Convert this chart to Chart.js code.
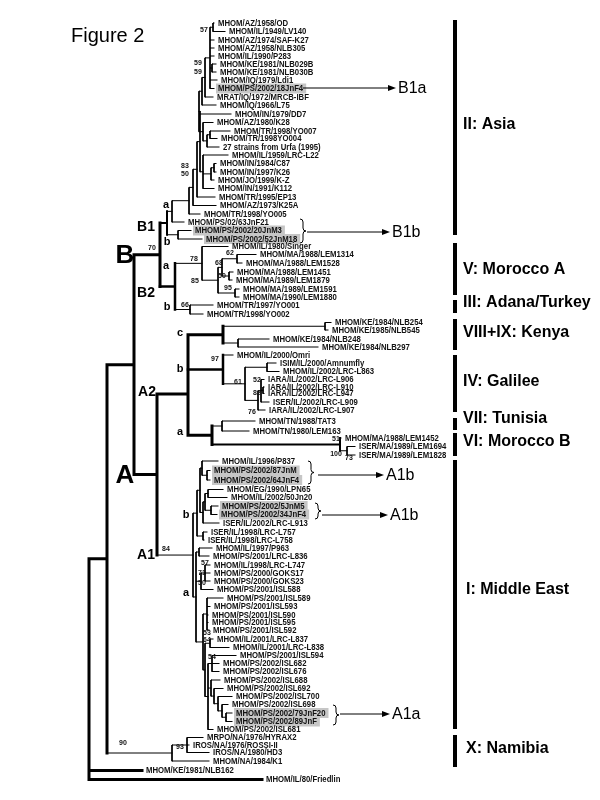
<!DOCTYPE html>
<html>
<head>
<meta charset="utf-8">
<script src="https://cdn.jsdelivr.net/npm/chart.js@4.4.1/dist/chart.umd.min.js"></script>
<style>
  html, body { margin: 0; padding: 0; background: #fff; }
  #wrap { width: 600px; height: 800px; }
</style>
</head>
<body>
<div id="wrap"><canvas id="treeChart" width="600" height="800"></canvas></div>
<script>
// strain names, one per row of the tree (top to bottom)
const leafNames = [
  "MHOM/AZ/1958/OD", "MHOM/IL/1949/LV140", "MHOM/AZ/1974/SAF-K27", "MHOM/AZ/1958/NLB305",
  "MHOM/IL/1990/P283", "MHOM/KE/1981/NLB029B", "MHOM/KE/1981/NLB030B", "MHOM/IQ/1979/Ldi1",
  "MHOM/PS/2002/18JnF4", "MRAT/IQ/1972/MRCB-IBF", "MHOM/IQ/1966/L75", "MHOM/IN/1979/DD7",
  "MHOM/AZ/1980/K28", "MHOM/TR/1998/YO007", "MHOM/TR/1998YO004", "27 strains from Urfa (1995)",
  "MHOM/IL/1959/LRC-L22", "MHOM/IN/1984/C87", "MHOM/IN/1997/K26", "MHOM/JO/1999/K-Z",
  "MHOM/IN/1991/K112", "MHOM/TR/1995/EP13", "MHOM/AZ/1973/K25A", "MHOM/TR/1998/YO005",
  "MHOM/PS/02/63JnF21", "MHOM/PS/2002/20JnM3", "MHOM/PS/2002/52JnM18", "MHOM/IL/1980/Singer",
  "MHOM/MA/1988/LEM1314", "MHOM/MA/1988/LEM1528", "MHOM/MA/1988/LEM1451", "MHOM/MA/1989/LEM1879",
  "MHOM/MA/1989/LEM1591", "MHOM/MA/1990/LEM1880", "MHOM/TR/1997/YO001", "MHOM/TR/1998/YO002",
  "MHOM/KE/1984/NLB254", "MHOM/KE/1985/NLB545", "MHOM/KE/1984/NLB248", "MHOM/KE/1984/NLB297",
  "MHOM/IL/2000/Omri", "ISIM/IL/2000/Amnumfly", "MHOM/IL/2002/LRC-L863", "IARA/IL/2002/LRC-L906",
  "IARA/IL/2002/LRC-L910", "IARA/IL/2002/LRC-L947", "ISER/IL/2002/LRC-L909", "IARA/IL/2002/LRC-L907",
  "MHOM/TN/1988/TAT3", "MHOM/TN/1980/LEM163", "MHOM/MA/1988/LEM1452", "ISER/MA/1989/LEM1694",
  "ISER/MA/1989/LEM1828", "MHOM/IL/1996/P837", "MHOM/PS/2002/87JnM", "MHOM/PS/2002/64JnF4",
  "MHOM/EG/1990/LPN65", "MHOM/IL/2002/50Jn20", "MHOM/PS/2002/5JnM5", "MHOM/PS/2002/34JnF4",
  "ISER/IL/2002/LRC-L913", "ISER/IL/1998/LRC-L757", "ISER/IL/1998/LRC-L758", "MHOM/IL/1997/P963",
  "MHOM/PS/2001/LRC-L836", "MHOM/IL/1998/LRC-L747", "MHOM/PS/2000/GOKS17", "MHOM/PS/2000/GOKS23",
  "MHOM/PS/2001/ISL588", "MHOM/PS/2001/ISL589", "MHOM/PS/2001/ISL593", "MHOM/PS/2001/ISL590",
  "MHOM/PS/2001/ISL595", "MHOM/PS/2001/ISL592", "MHOM/IL/2001/LRC-L837", "MHOM/IL/2001/LRC-L838",
  "MHOM/PS/2001/ISL594", "MHOM/PS/2002/ISL682", "MHOM/PS/2002/ISL676", "MHOM/PS/2002/ISL688",
  "MHOM/PS/2002/ISL692", "MHOM/PS/2002/ISL700", "MHOM/PS/2002/ISL698", "MHOM/PS/2002/79JnF20",
  "MHOM/PS/2002/89JnF", "MHOM/PS/2002/ISL681", "MRPO/NA/1976/HYRAX2", "IROS/NA/1976/ROSSI-II",
  "IROS/NA/1980/HD3", "MHOM/NA/1984/K1", "MHOM/KE/1981/NLB162", "MHOM/IL/80/Friedlin"
];

// row position of each strain
const leafRows = [
  23, 31.5, 40, 48, 56, 64, 72, 80, 88.5, 97, 105, 114, 122.5, 131, 138.5, 147,
  155, 163.5, 172, 180, 188.5, 197, 205.5, 214, 222, 230.5, 239, 246.5,
  254.5, 263, 272, 280, 289, 297, 305, 314, 322.5, 330, 339, 347,
  355, 363, 371.5, 379.5, 387, 393.5, 402, 410, 421, 431, 438, 446.5,
  455, 461, 470.5, 480, 489.5, 497.5, 506, 514.5, 523, 532, 540, 548,
  556, 565, 573, 581, 589.5, 598, 606.5, 615, 622.5, 630, 639, 647.5,
  655.5, 663.5, 671.5, 680, 688.5, 696.5, 704.5, 713, 721.5, 729.5, 737.5, 745,
  752.5, 761, 770.5, 779.5
];

// distance from the root to each tip (same units as the node depths below)
const leafTips = [
  214, 225, 214, 214, 214, 216, 216, 217, 214, 213, 216, 231, 213, 230, 217, 219,
  228, 216, 216, 214, 214, 215, 216, 200, 184, 191, 202, 228,
  256, 242, 233, 232, 239, 239, 213, 203, 331, 328, 269, 318,
  233, 276, 279, 264, 264, 264, 269, 265, 255, 249, 341, 355,
  355, 218, 210, 210, 223, 227, 218, 217, 219, 207, 204, 212,
  209, 210, 210, 210, 213, 223, 210, 208, 208, 209, 213, 229,
  236, 219, 219, 220, 223, 232, 228, 232, 232, 213, 203, 189,
  209, 209, 142, 262
];

const highlighted = [8, 25, 26, 54, 55, 58, 59, 83, 84];
const thickLeaves = [90, 91];

function node(x, kids, w, y) {
  return { x: x, kids: kids, w: w || 1, y: y };
}

// topology: node(depth, children, line width, fixed row)
const tree = node(89, [
  node(107, [
    node(134, [
      node(160, [
        node(167, [
          node(172, [
            node(189, [
              node(193, [
                node(197, [
                  node(200, [
                    node(199, [
                      node(202, [
                        node(205, [
                          node(210, [node(213, [0, 1]), 2, 3, 4, node(212, [5, 6]), 7, 8]),
                          9]),
                        10]),
                      11,
                      node(203, [12, node(207, [node(210, [13, 14]), 15])])
                    ]),
                    node(203, [16, node(211, [node(214, [17, 18]), 19]), 20])
                  ]),
                  21]),
                22]),
              23]),
            24]),
          node(178, [25, 26])
        ], 2),
        node(175, [
          node(202, [27, node(218, [node(222, [node(237, [28, 29]), node(229, [30, 31])]), node(235, [32, 33])])]),
          node(190, [34, 35])
        ], 2.5)
      ], 3),
      node(157, [
        node(188, [
          node(223, [node(325, [36, 37]), node(238, [38, 39])], 3),
          node(223, [40, node(245, [node(267, [41, 42]), node(258, [node(261, [43, node(263, [44, 45]), 46]), 47])])], 2.5),
          node(212, [node(222, [48, 49]), node(340, [50, node(347, [51, 52])], 2)], 3)
        ], 3, 394),
        node(193, [
          node(197, [
            node(200, [node(202, [53, node(207, [54, 55])]), node(203, [node(205, [node(208, [56, 57]), node(211, [58, 59])]), 60])]),
            node(203, [61, 62])
          ]),
          node(196, [
            node(199, [63, 64]),
            node(201, [node(205, [65, 66, 67]), 68]),
            node(203, [
              node(207, [69, 70, 71, 72, 73]),
              node(205, [
                node(210, [74, 75]),
                node(208, [
                  node(212, [76, 77, 78]),
                  node(211, [79, node(214, [80, node(218, [81, node(222, [82, node(226, [83, 84])])])])]),
                  85
                ])
              ])
            ])
          ])
        ], 1)
      ], 3)
    ], 3),
    node(172, [node(187, [86, 87, 88]), 89])
  ], 3),
  90, 91
], 3);

// bootstrap values: [text, depth, row]
const supportLabels = [
  ["57", 204, 30], ["59", 198, 63], ["59", 198, 72], ["83", 185, 166], ["50", 185, 174],
  ["70", 152, 248], ["78", 194, 259], ["62", 230, 253], ["68", 219, 263], ["50", 222, 276],
  ["85", 195, 281], ["95", 228, 288], ["66", 185, 305], ["97", 215, 359], ["61", 238, 382],
  ["52", 257, 380], ["82", 257, 393], ["76", 252, 412], ["51", 336, 439], ["100", 336, 454],
  ["73", 349, 458], ["84", 166, 549], ["57", 205, 563], ["71", 202, 573], ["50", 202, 583],
  ["53", 207, 633], ["64", 207, 640], ["54", 212, 657], ["90", 123, 743], ["93", 180, 747]
];

// clade names: [text, depth, row, font size]
const cladeLabels = [
  ["B", 125, 256, 26], ["A", 125, 476, 26],
  ["B1", 146, 227, 14], ["B2", 146, 293, 14], ["A2", 147, 392, 14], ["A1", 146, 555, 14],
  ["a", 166, 205, 11], ["b", 167, 242, 11], ["a", 166, 266, 11], ["b", 167, 307, 11],
  ["c", 180, 333, 11], ["b", 180, 369, 11], ["a", 180, 432, 11],
  ["b", 186, 515, 11], ["a", 186, 593, 11]
];

// geographic groups on the right: name, top row, bottom row, label row
const groupNames = ["II: Asia", "V: Morocco A", "III: Adana/Turkey", "VIII+IX: Kenya",
  "IV: Galilee", "VII: Tunisia", "VI: Morocco B", "I: Middle East", "X: Namibia"];
const groupTop = [20, 243, 300, 319, 355, 418, 433, 460, 735];
const groupBottom = [235, 295, 313, 350, 412, 430, 456, 729, 767];
const groupLabelRow = [125, 270, 303, 333, 382, 419, 442, 590, 749];
const barPos = 455;

// arrows: label, row, brace depth (null = none), brace top, brace bottom, arrow start, arrow end
const arrowNames = ["B1a", "B1b", "A1b", "A1b", "A1a"];
const arrowRow = [88, 232, 475, 515, 714];
const braceTop = [null, 219, 461, 503, 705];
const braceBottom = [null, 243, 484, 519, 725];
const braceAt = [null, 300, 308, 315, 333];
const arrowFrom = [303, 307, 318, 322, 340];
const arrowTo = [396, 390, 384, 388, 390];

// ---- build line segments through the tree ----
const segs = [];
function layout(n) {
  if (typeof n === "number") {
    return { x: leafTips[n], y: leafRows[n], w: thickLeaves.includes(n) ? 3 : 1 };
  }
  const kids = n.kids.map(layout);
  const yTop = kids[0].y, yBot = kids[kids.length - 1].y;
  const y = n.y !== undefined ? n.y : (yTop + yBot) / 2;
  segs.push({ w: n.w, a: [n.x, Math.min(yTop, y)], b: [n.x, Math.max(yBot, y)] });
  kids.forEach(function (k) {
    segs.push({ w: k.w, a: [n.x, k.y], b: [k.x, k.y] });
  });
  return { x: n.x, y: y, w: n.w };
}
layout(tree);

const byWidth = {};
segs.forEach(function (s) {
  (byWidth[s.w] = byWidth[s.w] || []).push({ x: s.a[0], y: s.a[1] }, { x: s.b[0], y: s.b[1] }, { x: null, y: null });
});

const datasets = Object.keys(byWidth).map(function (w) {
  return {
    data: byWidth[w],
    showLine: true,
    borderColor: "#000",
    borderWidth: Number(w),
    pointRadius: 0,
    borderCapStyle: "square",
    spanGaps: false
  };
});

const barData = [];
groupNames.forEach(function (g, i) {
  barData.push({ x: barPos, y: groupTop[i] }, { x: barPos, y: groupBottom[i] }, { x: null, y: null });
});
datasets.push({ data: barData, showLine: true, borderColor: "#000", borderWidth: 4, pointRadius: 0, borderCapStyle: "butt" });

const arrowData = [];
arrowNames.forEach(function (a, i) {
  arrowData.push({ x: arrowFrom[i], y: arrowRow[i] }, { x: arrowTo[i] - 6, y: arrowRow[i] }, { x: null, y: null });
});
datasets.push({ data: arrowData, showLine: true, borderColor: "#000", borderWidth: 1, pointRadius: 0, borderCapStyle: "butt" });

const LEAF_FONT = 'bold 9px "Liberation Sans", Arial, sans-serif';
const LEAF_SQUEEZE = 0.86;

const treeText = {
  id: "treeText",
  beforeDatasetsDraw: function (chart) {
    const ctx = chart.ctx, xs = chart.scales.x, ys = chart.scales.y;
    ctx.save();
    ctx.font = LEAF_FONT;
    ctx.fillStyle = "#c6c6c6";
    highlighted.forEach(function (i) {
      const px = xs.getPixelForValue(leafTips[i]) + 2;
      const py = ys.getPixelForValue(leafRows[i]);
      const w = ctx.measureText(leafNames[i]).width * LEAF_SQUEEZE;
      ctx.fillRect(px, py - 5, w + 5, 10);
    });
    ctx.restore();
  },
  afterDatasetsDraw: function (chart) {
    const ctx = chart.ctx, xs = chart.scales.x, ys = chart.scales.y;
    const X = function (v) { return xs.getPixelForValue(v); };
    const Y = function (v) { return ys.getPixelForValue(v); };
    ctx.save();
    ctx.fillStyle = "#111";
    ctx.textBaseline = "middle";

    // strain names
    ctx.font = LEAF_FONT;
    ctx.textAlign = "left";
    leafNames.forEach(function (name, i) {
      ctx.save();
      ctx.translate(X(leafTips[i]) + 4, Y(leafRows[i]) + 0.5);
      ctx.scale(LEAF_SQUEEZE, 1);
      ctx.fillText(name, 0, 0);
      ctx.restore();
    });

    // bootstrap values
    ctx.font = 'bold 7px "Liberation Sans", Arial, sans-serif';
    ctx.textAlign = "center";
    supportLabels.forEach(function (s) {
      ctx.fillText(s[0], X(s[1]), Y(s[2]));
    });

    // clade names
    ctx.fillStyle = "#000";
    cladeLabels.forEach(function (c) {
      ctx.font = 'bold ' + c[3] + 'px "Liberation Sans", Arial, sans-serif';
      ctx.fillText(c[0], X(c[1]), Y(c[2]));
    });

    // group names
    ctx.font = 'bold 16px "Liberation Sans", Arial, sans-serif';
    ctx.textAlign = "left";
    groupNames.forEach(function (g, i) {
      ctx.fillText(g, X(barPos) + (i >= 7 ? 11 : 8), Y(groupLabelRow[i]));
    });

    // braces, arrowheads, arrow labels
    ctx.strokeStyle = "#000";
    ctx.lineWidth = 1;
    arrowNames.forEach(function (a, i) {
      const yr = Y(arrowRow[i]);
      if (braceAt[i] !== null) {
        const bx = X(braceAt[i]), t = Y(braceTop[i]), b = Y(braceBottom[i]);
        const mid = (t + b) / 2;
        ctx.beginPath();
        ctx.moveTo(bx, t);
        ctx.quadraticCurveTo(bx + 3, t, bx + 3, t + 3);
        ctx.lineTo(bx + 3, mid - 3);
        ctx.quadraticCurveTo(bx + 3, mid, bx + 6, mid);
        ctx.quadraticCurveTo(bx + 3, mid, bx + 3, mid + 3);
        ctx.lineTo(bx + 3, b - 3);
        ctx.quadraticCurveTo(bx + 3, b, bx, b);
        ctx.stroke();
      }
      const tip = X(arrowTo[i]);
      ctx.beginPath();
      ctx.moveTo(tip, yr);
      ctx.lineTo(tip - 8, yr - 3);
      ctx.lineTo(tip - 8, yr + 3);
      ctx.closePath();
      ctx.fill();
      ctx.font = '16px "Liberation Sans", Arial, sans-serif';
      ctx.fillText(a, tip + 2, yr + 1);
    });

    // title
    ctx.font = '20px "Liberation Sans", Arial, sans-serif';
    ctx.fillText("Figure 2", 71, 36);
    ctx.restore();
  }
};

new Chart(document.getElementById("treeChart").getContext("2d"), {
  type: "scatter",
  data: { datasets: datasets },
  options: {
    responsive: false,
    animation: false,
    devicePixelRatio: 1,
    layout: { padding: 0 },
    plugins: { legend: { display: false }, tooltip: { enabled: false } },
    scales: {
      x: { type: "linear", min: 0, max: 600, display: false },
      y: { type: "linear", min: 0, max: 800, reverse: true, display: false }
    }
  },
  plugins: [treeText]
});
</script>
</body>
</html>
